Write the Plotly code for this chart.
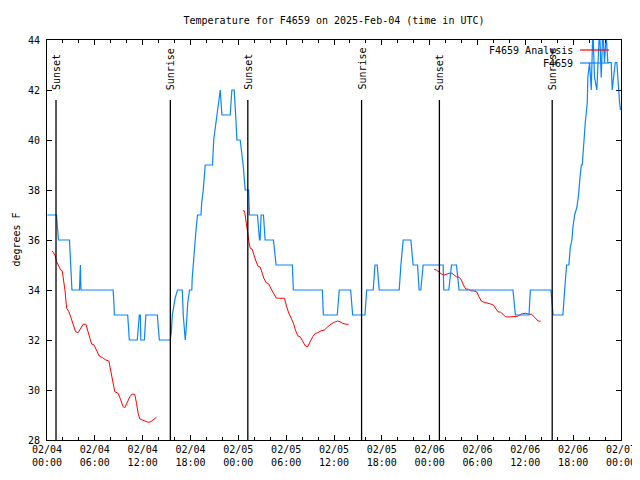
import pandas as pd
import plotly.graph_objects as go

BASE = pd.Timestamp("2025-02-04 00:00")

# Observed F4659 (hours since 2025-02-04 00:00 UTC, deg F)
obs_hours = [0.05, 1.19, 1.31, 1.44, 2.82, 3.01, 3.13, 4.07, 4.13, 4.19, 4.26, 4.32,
             8.29, 8.39, 8.45, 10.12, 10.27, 10.33, 11.33, 11.58, 11.71, 11.77, 12.21, 12.40,
             13.84, 14.09, 15.46, 15.59, 15.72, 15.90, 16.09, 16.38, 16.97, 17.09, 17.34,
             17.47, 17.66, 17.88, 18.16, 18.22, 18.34, 18.47, 18.59, 18.72, 18.88, 19.31,
             19.41, 19.60, 19.85, 20.76, 20.91, 21.10, 21.29, 21.48, 21.64, 21.73, 21.94,
             22.98, 23.19, 23.48, 23.67, 23.82, 24.23, 24.42, 24.61, 24.86, 25.29, 25.39,
             26.40, 26.65, 26.73, 26.86, 27.15, 27.36, 28.40, 28.74, 30.78, 30.90, 34.54,
             34.66, 36.41, 36.66, 38.09, 38.34, 39.88, 40.10, 40.92, 41.14, 41.42, 41.67,
             44.18, 44.39, 44.68, 45.64, 45.93, 46.48, 46.68, 46.89, 47.18, 49.69, 49.77,
             50.40, 50.74, 51.36, 51.69, 58.45, 58.75, 60.46, 60.63, 63.21, 63.39, 63.49,
             64.71, 64.84, 65.05, 65.18, 65.46, 65.64, 65.84, 65.97, 66.18, 66.46, 66.68,
             66.80, 67.02, 67.14, 67.30, 67.52, 67.77, 67.84, 68.06, 68.27, 68.47, 68.68,
             68.97, 69.31, 69.52, 69.72, 69.93, 70.14, 70.35, 70.77, 70.90, 71.06, 71.28,
             71.48, 71.69, 71.82, 71.94]
obs_temp = [37, 37, 36.5, 36, 36, 35, 34, 34, 34.5, 35, 34, 34,
            34, 33.5, 33, 33, 32.5, 32, 32, 33, 33, 32, 32, 33,
            33, 32, 32, 32.3, 33, 33.3, 33.7, 34, 34, 33, 32,
            32.5, 33.5, 34, 34, 34.5, 35, 35.7, 36, 36.5, 37, 37,
            37.5, 38, 39, 39, 40, 40.5, 41, 41.5, 42, 42, 41,
            41, 42, 42, 41, 40, 40, 39.5, 39, 38, 38, 37,
            37, 36, 36, 37, 37, 36, 36, 35, 35, 34, 34,
            33, 33, 34, 34, 33, 33, 34, 34, 35, 35, 34,
            34, 35, 36, 36, 35, 35, 34, 34, 35, 35, 34,
            34, 35, 35, 34, 34, 33, 33, 34, 34, 33.3, 33,
            33, 33.7, 34.5, 35, 35, 35.7, 36, 36.5, 37, 37.3, 37.8,
            38.3, 39, 39, 39.8, 40.7, 41.5, 42.5, 43.1, 42, 44.5, 42.5,
            42, 44.5, 42.5, 44.5, 43.1, 44.2, 43.1, 43.1, 42, 42.5, 43.1,
            43.1, 42, 41.5, 41.2]

# Analysis F4659 (three segments)
ana1_hours = [0.66, 1.0, 1.21, 1.41, 1.71, 1.91, 2.13, 2.25, 2.47, 2.75, 3.0, 3.29, 3.59,
              3.92, 4.22, 4.54, 4.88, 5.17, 5.38, 5.59, 5.88, 6.22, 6.55, 6.97, 7.38, 7.76,
              7.97, 8.22, 8.51, 8.92, 9.22, 9.55, 9.76, 10.05, 10.39, 10.68, 11.01, 11.23,
              11.43, 11.64, 12.05, 12.39, 12.68, 13.02, 13.39, 13.73]
ana1_temp = [35.56, 35.4, 35.13, 35.0, 34.8, 34.77, 34.33, 34.0, 33.27, 33.13, 32.9, 32.6,
             32.33, 32.3, 32.47, 32.63, 32.63, 32.33, 32.07, 31.84, 31.81, 31.6, 31.36, 31.29,
             31.2, 31.16, 30.87, 30.4, 29.93, 29.87, 29.63, 29.33, 29.29, 29.49, 29.73, 29.84,
             29.83, 29.47, 29.07, 28.84, 28.8, 28.76, 28.71, 28.73, 28.84, 28.91]
ana2_hours = [24.57, 24.78, 24.91, 25.07, 25.19, 25.32, 25.49, 25.74, 25.95, 26.16, 26.45,
              26.75, 27.0, 27.2, 27.5, 27.82, 28.12, 28.41, 28.75, 29.16, 29.79, 30.0, 30.33,
              30.63, 30.91, 31.16, 31.45, 31.75, 32.08, 32.42, 32.7, 33.0, 33.33, 33.67, 33.95,
              34.38, 34.79, 35.21, 35.63, 36.05, 36.46, 36.76, 37.08, 37.51, 37.83]
ana2_temp = [37.17, 37.16, 36.87, 36.6, 36.27, 35.93, 35.67, 35.63, 35.4, 35.2, 34.96,
             34.91, 34.67, 34.47, 34.29, 34.24, 34.04, 33.87, 33.68, 33.67, 33.67, 33.4, 33.07,
             32.87, 32.67, 32.4, 32.17, 32.13, 31.93, 31.76, 31.73, 31.93, 32.13, 32.27, 32.29,
             32.37, 32.4, 32.53, 32.64, 32.71, 32.76, 32.73, 32.67, 32.63, 32.63]
ana3_hours = [48.56, 48.85, 49.19, 49.52, 49.81, 50.1, 50.44, 50.78, 51.06, 51.35, 51.69,
              51.98, 52.23, 52.53, 52.85, 53.15, 53.57, 53.9, 54.19, 54.48, 54.82, 55.23,
              55.66, 55.98, 56.28, 56.57, 56.91, 57.2, 57.53, 57.95, 58.57, 58.99, 59.29,
              59.61, 60.04, 60.45, 60.79, 61.08, 61.36, 61.61, 61.91]
ana3_temp = [34.83, 34.8, 34.71, 34.63, 34.6, 34.64, 34.67, 34.67, 34.6, 34.53, 34.51,
             34.4, 34.2, 34.04, 34.03, 33.97, 33.96, 33.93, 33.73, 33.56, 33.51, 33.49,
             33.44, 33.4, 33.27, 33.13, 33.11, 33.03, 32.93, 32.92, 32.92, 32.95, 33.0,
             33.05, 33.07, 33.03, 33.03, 32.93, 32.84, 32.76, 32.75]

# Sun events (hours since base)
sun_labels = ["Sunset", "Sunrise", "Sunset", "Sunrise", "Sunset", "Sunrise"]
sun_hours = [1.13, 15.47, 25.19, 39.46, 49.22, 63.37]

title_text = "Temperature for F4659 on 2025-Feb-04 (time in UTC)"
y_title = "degrees F"
legend_names = ["F4659 Analysis", "F4659"]
colors = ["#ff0000", "#0a84ff"]

FONT = "DejaVu Sans Mono"

# The page body has an 8px margin, so the figure is shifted by 8px;
# sizes below compensate so the plot lands where the reference has it.
FIG_W, FIG_H = 632, 472
M_L, M_T = 38.5, 32
PLOT_W, PLOT_H = 575, 400


def to_time(hours):
    return [BASE + pd.Timedelta(hours=h) for h in hours]


ana_x = to_time(ana1_hours) + [None] + to_time(ana2_hours) + [None] + to_time(ana3_hours)
ana_y = ana1_temp + [None] + ana2_temp + [None] + ana3_temp

fig = go.Figure()
fig.add_trace(go.Scatter(x=ana_x, y=ana_y, mode="lines", name=legend_names[0],
                         line=dict(color=colors[0], width=1), connectgaps=False))
fig.add_trace(go.Scatter(x=to_time(obs_hours), y=obs_temp, mode="lines", name=legend_names[1],
                         line=dict(color=colors[1], width=1.2)))

for lab, h in zip(sun_labels, sun_hours):
    t = BASE + pd.Timedelta(hours=h)
    fig.add_shape(type="line", xref="x", yref="y", x0=t, x1=t, y0=28, y1=41.6,
                  line=dict(color="black", width=1.3))
    fig.add_annotation(x=t, y=41.92, xref="x", yref="y", text=lab, textangle=-90,
                       showarrow=False, xanchor="center", yanchor="bottom",
                       font=dict(family=FONT, size=10, color="black"))

# legend drawn gnuplot-style (text left of the sample line)
leg_y = [0.975, 0.9425]
for name, col, yy in zip(legend_names, colors, leg_y):
    fig.add_annotation(x=0.919, y=yy, xref="paper", yref="paper", text=name,
                       showarrow=False, xanchor="right", yanchor="middle",
                       font=dict(family=FONT, size=10, color="black"))
    fig.add_shape(type="line", xref="paper", yref="paper", x0=0.9287, x1=0.979,
                  y0=yy, y1=yy, line=dict(color=col, width=1.2))

fig.add_annotation(x=(15 - 46.5) / PLOT_W, y=0.5, xref="paper", yref="paper", text=y_title,
                   textangle=-90, showarrow=False, xanchor="center", yanchor="middle",
                   font=dict(family=FONT, size=10, color="black"))

fig.update_layout(
    width=FIG_W, height=FIG_H,
    margin=dict(l=M_L, r=FIG_W - M_L - PLOT_W, t=M_T, b=FIG_H - M_T - PLOT_H,
                autoexpand=False),
    paper_bgcolor="white", plot_bgcolor="white",
    showlegend=False,
    font=dict(family=FONT, size=10, color="black"),
    title=dict(text=title_text, x=0.5, xref="paper", y=1 - 12 / FIG_H, yref="container",
               xanchor="center", yanchor="middle",
               font=dict(family=FONT, size=10, color="black")),
)
fig.update_xaxes(
    type="date", automargin=False,
    range=[BASE, BASE + pd.Timedelta(hours=72)],
    dtick=6 * 3600 * 1000, tick0=BASE,
    tickformat="%m/%d<br>%H:%M",
    showgrid=False, zeroline=False,
    showline=True, linecolor="black", linewidth=1, mirror="ticks",
    ticks="inside", ticklen=5, tickcolor="black",
    minor=dict(ticks="inside", dtick=2 * 3600 * 1000, ticklen=3, tickcolor="black"),
    tickfont=dict(family=FONT, size=10),
)
fig.update_yaxes(
    range=[28, 44], dtick=2, automargin=False,
    showgrid=False, zeroline=False,
    showline=True, linecolor="black", linewidth=1, mirror="ticks",
    ticks="inside", ticklen=5, tickcolor="black", ticklabelstandoff=4,
    tickfont=dict(family=FONT, size=10),
)

fig.write_html("out.html")
